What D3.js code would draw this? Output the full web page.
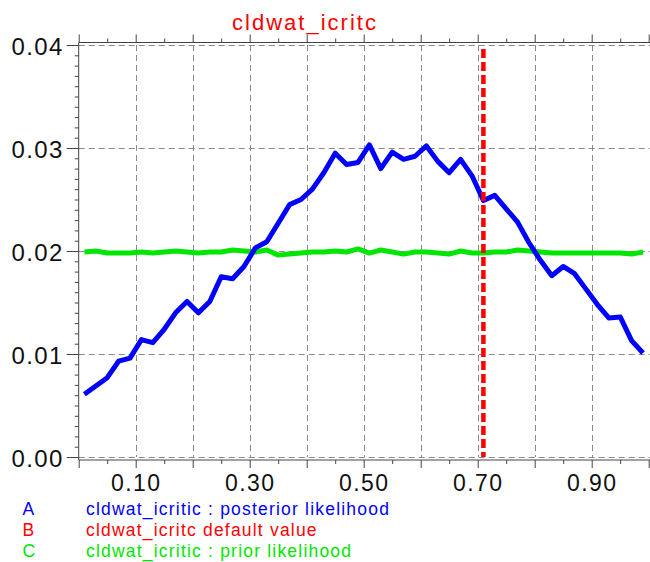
<!DOCTYPE html>
<html>
<head>
<meta charset="utf-8">
<script src="https://cdn.jsdelivr.net/npm/d3@7"></script>
<style>
    body { margin: 0; background: #fff; }
    svg { display: block; font-family: "Liberation Sans", Arial, sans-serif; }
</style>
</head>
<body>
<div id="chart"></div>
<script>
const chartTitle = 'cldwat_icritc';

const xValues = [0.01, 0.03, 0.05, 0.07, 0.09, 0.11, 0.13, 0.15, 0.17, 0.19,
    0.21, 0.23, 0.25, 0.27, 0.29, 0.31, 0.33, 0.35, 0.37, 0.39,
    0.41, 0.43, 0.45, 0.47, 0.49, 0.51, 0.53, 0.55, 0.57, 0.59,
    0.61, 0.63, 0.65, 0.67, 0.69, 0.71, 0.73, 0.75, 0.77, 0.79,
    0.81, 0.83, 0.85, 0.87, 0.89, 0.91, 0.93, 0.95, 0.97, 0.99];

const posterior = [0.0061, 0.0069, 0.0077, 0.0093, 0.0096, 0.0114, 0.0111, 0.0124, 0.0140, 0.0151,
    0.0140, 0.0151, 0.0175, 0.0173, 0.0185, 0.0203, 0.0209, 0.0227, 0.0245, 0.0250,
    0.0260, 0.0276, 0.0295, 0.0284, 0.0286, 0.0303, 0.0280, 0.0296, 0.0289, 0.0292,
    0.0302, 0.0287, 0.0276, 0.0289, 0.0273, 0.0249, 0.0254, 0.0241, 0.0228, 0.0208,
    0.0191, 0.0176, 0.0185, 0.0178, 0.0163, 0.0148, 0.0135, 0.0136, 0.0113, 0.0101];

const prior = [0.0199, 0.0200, 0.0198, 0.0198, 0.0198, 0.0199, 0.0198, 0.0199, 0.0200, 0.0199,
    0.0198, 0.0199, 0.0199, 0.0201, 0.0200, 0.0199, 0.0201, 0.0196, 0.0197, 0.0198,
    0.0199, 0.0199, 0.0200, 0.0199, 0.0202, 0.0198, 0.0201, 0.0199, 0.0197, 0.0199,
    0.0199, 0.0198, 0.0197, 0.0200, 0.0198, 0.0198, 0.0199, 0.0199, 0.0201, 0.0200,
    0.0199, 0.0198, 0.0198, 0.0198, 0.0198, 0.0198, 0.0198, 0.0198, 0.0197, 0.0199];

const defaultValue = 0.71;

const yTickValues = [0, 0.01, 0.02, 0.03, 0.04];
const xGridValues = [0.1, 0.2, 0.3, 0.4, 0.5, 0.6, 0.7, 0.8, 0.9];
const xLabelValues = [0.1, 0.3, 0.5, 0.7, 0.9];

const legendKeys = ['A', 'B', 'C'];
const legendLabels = ['cldwat_icritic : posterior likelihood', 'cldwat_icritc default value', 'cldwat_icritic : prior likelihood'];
const colors = { posterior: '#0000ff', defaultValue: '#ff0000', prior: '#00e600' };
const legendColors = [colors.posterior, colors.defaultValue, colors.prior];

const width = 650;
const height = 562;
const plotLeft = 78.7, plotRight = 648.7, plotTop = 45, plotBottom = 457;
const axisColor = '#444';

const svg = d3.select('#chart').append('svg')
    .attr('width', width)
    .attr('height', height);

const xScale = d3.scaleLinear().domain([0, 1]).range([plotLeft, plotRight]);
const yScale = d3.scaleLinear().domain([0, 0.04]).range([plotBottom, plotTop]);

// grid
const grid = svg.append('g').attr('class', 'grid')
    .attr('stroke', '#8a8a8a')
    .attr('stroke-width', 1)
    .attr('stroke-dasharray', '6,4');
grid.selectAll('.vgrid').data(xGridValues).enter().append('line')
    .attr('x1', d => Math.round(xScale(d)) + 0.5).attr('x2', d => Math.round(xScale(d)) + 0.5)
    .attr('y1', plotTop).attr('y2', plotBottom);
grid.selectAll('.hgrid').data(yTickValues).enter().append('line')
    .attr('x1', plotLeft).attr('x2', width)
    .attr('y1', d => Math.round(yScale(d)) + 0.5).attr('y2', d => Math.round(yScale(d)) + 0.5);

// axes
const yMinor = d3.range(0, 0.0405, 0.001).filter(v => Math.abs(v * 100 - Math.round(v * 100)) > 1e-6);
const xMinor = d3.range(0.05, 1, 0.1);
const xMajor = d3.range(0, 1.001, 0.1);

function styleAxis(g, size) {
    g.select('.domain').remove();
    g.selectAll('line').attr('stroke', axisColor);
    g.selectAll('text')
        .attr('fill', '#111')
        .style('font-size', (size || 23) + 'px')
        .style('letter-spacing', '1.4px')
        .style('font-family', '"Liberation Sans", Arial, sans-serif');
}

svg.append('g')
    .attr('transform', `translate(${plotLeft},0)`)
    .call(d3.axisLeft(yScale).tickValues(yTickValues).tickSize(12).tickPadding(3).tickFormat(d3.format('.2f')))
    .call(styleAxis, 24)
    .selectAll('text').attr('dy', '0.4em');

svg.append('g')
    .attr('transform', `translate(${plotLeft},0)`)
    .call(d3.axisLeft(yScale).tickValues(yMinor).tickSize(4).tickFormat(''))
    .call(styleAxis);

svg.append('g')
    .attr('transform', 'translate(0,460)')
    .call(d3.axisBottom(xScale).tickValues(xMajor).tickSize(8).tickPadding(7)
        .tickFormat(d => xLabelValues.some(v => Math.abs(v - d) < 1e-6) ? d3.format('.2f')(d) : ''))
    .call(styleAxis, 23);

svg.append('g')
    .attr('transform', 'translate(0,460)')
    .call(d3.axisBottom(xScale).tickValues(xMinor).tickSize(4).tickFormat(''))
    .call(styleAxis);

svg.append('g')
    .attr('transform', 'translate(0,42.5)')
    .call(d3.axisTop(xScale).tickValues(xMajor).tickSize(8).tickFormat(''))
    .call(styleAxis);

svg.append('g')
    .attr('transform', 'translate(0,42.5)')
    .call(d3.axisTop(xScale).tickValues(xMinor).tickSize(4).tickFormat(''))
    .call(styleAxis);

// box
svg.append('path')
    .attr('d', `M${width},42.5H${plotLeft}V460H${width}`)
    .attr('fill', 'none')
    .attr('stroke', axisColor)
    .attr('stroke-width', 1);

// series
const line = d3.line()
    .x((d, i) => xScale(xValues[i]))
    .y(d => yScale(d));

svg.append('path')
    .datum(prior)
    .attr('d', line)
    .attr('fill', 'none')
    .attr('stroke', colors.prior)
    .attr('stroke-width', 5)
    .attr('stroke-linejoin', 'round');

svg.append('path')
    .datum(posterior)
    .attr('d', line)
    .attr('fill', 'none')
    .attr('stroke', colors.posterior)
    .attr('stroke-width', 5)
    .attr('stroke-linejoin', 'round');

svg.append('line')
    .attr('x1', xScale(defaultValue)).attr('x2', xScale(defaultValue))
    .attr('y1', yScale(0.0396)).attr('y2', yScale(0))
    .attr('stroke', colors.defaultValue)
    .attr('stroke-width', 4.5)
    .attr('stroke-dasharray', '9,4');

// title
svg.append('text')
    .attr('x', 305)
    .attr('y', 30)
    .attr('text-anchor', 'middle')
    .attr('fill', '#ff0000')
    .style('font-size', '22px')
    .style('letter-spacing', '2px')
    .text(chartTitle);

// legend
const legend = svg.append('g').attr('class', 'legend');
legendLabels.forEach((label, i) => {
    const y = 515 + i * 21;
    legend.append('text')
        .attr('x', 22.5).attr('y', y)
        .attr('fill', legendColors[i])
        .style('font-size', '17.5px')
        .text(legendKeys[i]);
    legend.append('text')
        .attr('x', 86).attr('y', y)
        .attr('fill', legendColors[i])
        .style('font-size', '17.5px')
        .style('letter-spacing', '1.2px')
        .text(label);
});
</script>
</body>
</html>
